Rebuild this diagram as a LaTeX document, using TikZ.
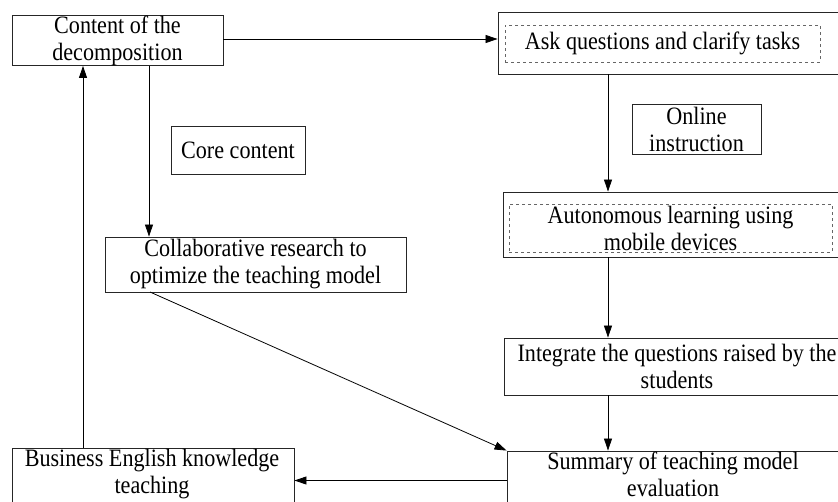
\documentclass[tikz,border=0pt]{standalone}
\usepackage{fontspec}
\setmainfont{Liberation Serif}[FakeStretch=0.885]
\usetikzlibrary{arrows.meta}
\begin{document}
\begin{tikzpicture}[x=1pt,y=-1pt,
  every node/.style={font=\fontsize{25}{27}\selectfont, align=center, inner sep=0pt},
  box/.style={draw=black!85, line width=0.9pt, minimum width=#1},
  inbox/.style={draw=black!60, dashed, line width=0.7pt},
  conn/.style={line width=0.8pt, -{Triangle[length=12pt,width=8pt]}},
  plain/.style={line width=0.8pt}]
\useasboundingbox (0,0) rectangle (838,501);
\clip (0,0) rectangle (838,501);
% boxes
\node[box=211pt, minimum height=47pt] (content) at (117.5,40.5) {Content of the\\decomposition};
\node[box=347pt, minimum height=62pt] (askout) at (671.5,43) {};
\node[inbox, minimum width=315pt, minimum height=37pt] (askin) at (662.5,43.5) {Ask questions and clarify tasks};
\node[box=129pt, minimum height=50pt] (online) at (696.5,129) {Online\\instruction};
\node[box=134pt, minimum height=48pt] (core) at (238,150) {Core content};
\node[box=342pt, minimum height=65pt] (autoout) at (674,224.5) {};
\node[inbox, minimum width=323pt, minimum height=48pt] (autoin) at (670.5,228) {Autonomous learning using\\mobile devices};
\node[box=301pt, minimum height=55pt] (collab) at (255.5,264.5) {Collaborative research to\\optimize the teaching model};
\node[box=341pt, minimum height=57pt] (integ) at (674.5,366.5) {};
\node (integT) at (677,366) {Integrate the questions raised by the\\students};
\node[box=338pt, minimum height=59pt] (summ) at (676,480.5) {};
\node (summT) at (673,474) {Summary of teaching model\\evaluation};
\node[box=282pt, minimum height=62pt] (bus) at (153,479) {};
\node (busT) at (152,474) {Business English knowledge\\teaching};
% connector guide coordinates
\coordinate (rx) at (608,0);
\coordinate (upx) at (83,0);
\coordinate (dnx) at (149,0);
\coordinate (dy) at (0,39);
\coordinate (cdiag) at (150,292);
% connectors
\draw[conn] (content.east |- dy) -- (askout.west |- dy);
\draw[conn] (askout.south -| rx) -- (autoout.north -| rx);
\draw[conn] (autoout.south -| rx) -- (integ.north -| rx);
\draw[conn] (integ.south -| rx) -- (summ.north -| rx);
\draw[conn] (summ.west) -- (bus.east |- summ.west);
\draw[conn] (bus.north -| upx) -- (content.south -| upx);
\draw[conn] (content.south -| dnx) -- (collab.north -| dnx);
\draw[conn] (cdiag) -- (summ.north west);
\end{tikzpicture}
\end{document}
